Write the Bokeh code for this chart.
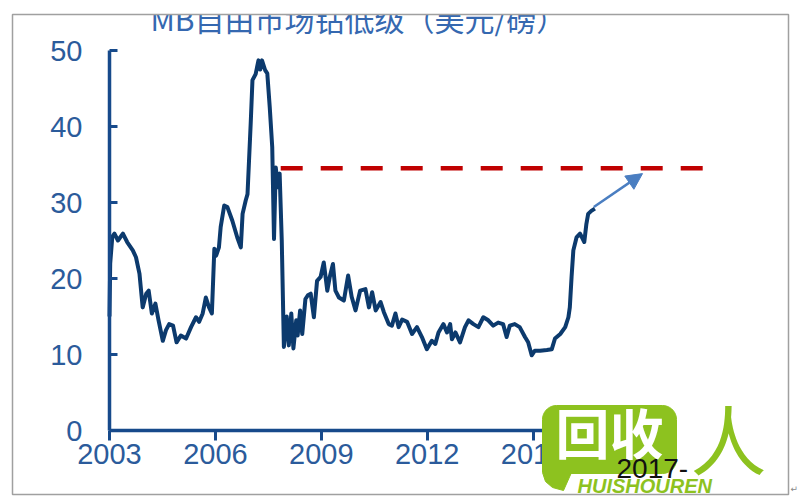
import numpy as np
from bokeh.plotting import figure
from bokeh.models import Range1d, LinearAxis, FixedTicker, Arrow, NormalHead
from bokeh.core.properties import value
from bokeh.embed import file_html
from bokeh.resources import INLINE

# ---------------- data ----------------
title_text = "MB自由市场钴低级（美元/磅）"
x_ticks = [2003, 2006, 2009, 2012, 2015]
y_ticks = [0, 10, 20, 30, 40, 50]
extra_label = "2017-"

years = [2003.00, 2003.02, 2003.08, 2003.14, 2003.24, 2003.38, 2003.50, 2003.66, 2003.75, 2003.85,
         2003.94, 2004.04, 2004.11, 2004.20, 2004.30, 2004.39, 2004.51, 2004.60, 2004.69, 2004.80,
         2004.90, 2005.02, 2005.17, 2005.31, 2005.45, 2005.54, 2005.64, 2005.73, 2005.82, 2005.90,
         2005.97, 2006.02, 2006.10, 2006.15, 2006.25, 2006.34, 2006.48, 2006.62, 2006.72, 2006.77,
         2006.86, 2006.91, 2007.00, 2007.05, 2007.14, 2007.22, 2007.27, 2007.32, 2007.41, 2007.47,
         2007.54, 2007.61, 2007.66, 2007.71, 2007.77, 2007.82, 2007.88, 2007.94, 2008.02, 2008.08,
         2008.15, 2008.21, 2008.29, 2008.33, 2008.40, 2008.46, 2008.55, 2008.62, 2008.70, 2008.79,
         2008.88, 2008.98, 2009.07, 2009.17, 2009.24, 2009.33, 2009.40, 2009.50, 2009.64, 2009.76,
         2009.86, 2009.97, 2010.10, 2010.25, 2010.35, 2010.44, 2010.54, 2010.68, 2010.77, 2010.91,
         2011.00, 2011.10, 2011.19, 2011.29, 2011.43, 2011.57, 2011.71, 2011.85, 2011.99, 2012.13,
         2012.23, 2012.32, 2012.46, 2012.56, 2012.65, 2012.70, 2012.80, 2012.93, 2013.07, 2013.17,
         2013.31, 2013.45, 2013.59, 2013.73, 2013.87, 2014.01, 2014.15, 2014.25, 2014.34, 2014.48,
         2014.62, 2014.77, 2014.86, 2014.96, 2015.05, 2015.20, 2015.39, 2015.53, 2015.62, 2015.77,
         2015.91, 2016.00, 2016.04, 2016.09, 2016.14, 2016.23, 2016.33, 2016.45, 2016.51, 2016.56,
         2016.65, 2016.75]
prices = [15.0, 22.0, 25.5, 25.9, 25.0, 25.9, 24.8, 23.7, 22.8, 20.6,
          16.2, 18.0, 18.4, 15.4, 16.7, 14.5, 11.8, 13.2, 14.0, 13.8,
          11.6, 12.5, 12.1, 13.6, 14.9, 14.3, 15.4, 17.5, 16.2, 15.4,
          23.9, 23.0, 24.1, 26.8, 29.6, 29.4, 27.6, 25.4, 24.1, 28.5,
          30.3, 31.1, 40.4, 46.1, 46.9, 48.7, 47.5, 48.7, 47.4, 47.0,
          42.5, 37.3, 25.2, 34.6, 32.0, 33.8, 25.0, 11.0, 15.0, 11.2,
          15.4, 10.8, 14.5, 12.5, 15.8, 12.7, 17.3, 17.8, 18.0, 14.9,
          19.7, 20.2, 22.1, 18.4, 20.2, 21.9, 18.4, 17.5, 17.1, 20.4,
          17.6, 15.8, 18.4, 18.6, 16.2, 18.2, 15.8, 16.9, 15.6, 14.0,
          13.8, 15.4, 13.6, 14.6, 14.3, 12.7, 13.6, 12.3, 10.7, 11.8,
          11.4, 12.9, 14.0, 12.9, 14.0, 12.0, 12.9, 11.6, 13.6, 14.5,
          14.0, 13.6, 14.9, 14.5, 13.8, 14.2, 14.0, 12.3, 13.8, 14.0,
          13.6, 12.3, 11.6, 9.9, 10.5, 10.5, 10.6, 10.7, 12.1, 12.7,
          13.6, 14.9, 16.2, 20.2, 23.7, 25.4, 25.9, 24.8, 27.2, 28.5,
          28.9, 29.2]

target_level = 34.5
target_span = [2007.85, 2019.9]
arrow_from = [2016.72, 29.4]
arrow_to = [2018.1, 33.8]

# ---------------- layout helpers (picture pixel -> data) ----------------
W, H = 800, 500
PAGE = 0
X0_PX, PX_PER_YEAR = 109.0, 35.3
Y0_PX, PX_PER_UNIT = 430.0, 7.6


def X(px):
    return 2003 + (px - X0_PX) / PX_PER_YEAR


def Y(py):
    return (Y0_PX - py) / PX_PER_UNIT


p = figure(width=W, height=H,
           x_range=Range1d(X(PAGE), X(PAGE + W)),
           y_range=Range1d(Y(PAGE + H), Y(PAGE)),
           output_backend="svg", toolbar_location=None,
           x_axis_location=None, y_axis_location=None,
           min_border=0, outline_line_color=None,
           background_fill_color="white", border_fill_color="white")
p.xgrid.visible = False
p.ygrid.visible = False

# ---------------- axes ----------------
axis_color = "#174A8B"
label_color = "#2B5B9B"
tick_font = "Liberation Sans"

yaxis = LinearAxis(fixed_location=2003, bounds=(0, 50),
                   ticker=FixedTicker(ticks=y_ticks, minor_ticks=[]))
yaxis.axis_line_color = axis_color
yaxis.axis_line_width = 3.5
yaxis.major_tick_line_color = axis_color
yaxis.major_tick_line_width = 3
yaxis.major_tick_in = 8
yaxis.major_tick_out = 0
yaxis.minor_tick_line_color = None
yaxis.major_label_text_color = label_color
yaxis.major_label_text_font = tick_font
yaxis.major_label_text_font_size = "29px"
yaxis.major_label_standoff = 27
p.add_layout(yaxis, "left")

xaxis = LinearAxis(fixed_location=0, bounds=(2003, 2018.5),
                   ticker=FixedTicker(ticks=x_ticks, minor_ticks=[]))
xaxis.axis_line_color = axis_color
xaxis.axis_line_width = 3.5
xaxis.major_tick_line_color = axis_color
xaxis.major_tick_line_width = 3
xaxis.major_tick_in = 0
xaxis.major_tick_out = 10
xaxis.minor_tick_line_color = None
xaxis.major_label_text_color = label_color
xaxis.major_label_text_font = tick_font
xaxis.major_label_text_font_size = "29px"
xaxis.major_label_standoff = 3
p.add_layout(xaxis, "below")

# ---------------- data marks ----------------
p.line(years, prices, line_color="#0C3A6D", line_width=4, line_join="round")
p.line(target_span, [target_level, target_level], line_color="#C00000",
       line_width=4.5, line_dash="22 18")
p.add_layout(Arrow(end=NormalHead(size=16, fill_color="#4A7EC1", line_color="#4A7EC1"),
                   x_start=arrow_from[0], y_start=arrow_from[1],
                   x_end=arrow_to[0], y_end=arrow_to[1],
                   line_color="#4A7EC1", line_width=2.5))

# ---------------- title (top clipped by frame) ----------------
p.text(x=[X(150)], y=[Y(17)], text=[title_text], text_font=value("Noto Sans CJK SC"),
       text_font_size=value("30px"), text_color="#3568B0",
       text_align="left", text_baseline="middle")

# ---------------- watermark logo ----------------
green = "#8DC21F"


def rounded_rect(x0, y0, x1, y1, r, n=10):
    pts = []
    for cx, cy, a0 in [(x1 - r, y0 + r, -90), (x1 - r, y1 - r, 0),
                       (x0 + r, y1 - r, 90), (x0 + r, y0 + r, 180)]:
        for a in np.linspace(a0, a0 + 90, n):
            pts.append((cx + r * np.cos(np.radians(a)), cy + r * np.sin(np.radians(a))))
    return [X(px) for px, _ in pts], [Y(py) for _, py in pts]


bx, by = rounded_rect(542, 405, 676, 473, 14)
r1 = p.patch(bx, by, fill_color=green, line_color=green)
tail = [(542, 440), (542, 472), (545, 481), (552, 487), (563, 490), (571, 472), (560, 460)]
r2 = p.patch([X(a) for a, _ in tail], [Y(b) for _, b in tail], fill_color=green, line_color=green)
r3 = p.text(x=[X(609)], y=[Y(431)], text=["回收"], text_font=value("Noto Sans CJK SC"),
            text_font_size=value("54px"), text_font_style="bold", text_color="white",
            text_align="center", text_baseline="middle")
r4 = p.text(x=[X(728)], y=[Y(436)], text=["人"], text_font=value("Noto Sans CJK SC"),
            text_font_size=value("76px"), text_color=green,
            text_align="center", text_baseline="middle")
r5 = p.text(x=[X(577)], y=[Y(485)], text=["HUISHOUREN"], text_font=value("Liberation Sans"),
            text_font_size=value("20px"), text_font_style="bold italic", text_color=green,
            text_align="left", text_baseline="middle")
r6 = p.text(x=[X(616)], y=[Y(468)], text=[extra_label], text_font=value("Liberation Sans"),
            text_font_size=value("28px"), text_color="#111111",
            text_align="left", text_baseline="middle")

# ---------------- page frame ----------------
r7 = p.quad(left=[X(PAGE)], right=[X(PAGE + W)], top=[Y(PAGE)], bottom=[Y(13.5)],
            fill_color="white", line_color=None)
r8 = p.quad(left=[X(12)], right=[X(788)], top=[Y(14)], bottom=[Y(494)],
            fill_color=None, line_color="#A0A0A0", line_width=1.5)
r9 = p.text(x=[X(790)], y=[Y(488)], text=["↵"], text_font=value("DejaVu Sans"),
            text_font_size=value("9px"), text_color="#888888",
            text_align="left", text_baseline="middle")
for r in (r1, r2, r3, r4, r5, r6, r7, r8, r9):
    r.level = "overlay"

open("out.html", "w").write(file_html(p, INLINE))
